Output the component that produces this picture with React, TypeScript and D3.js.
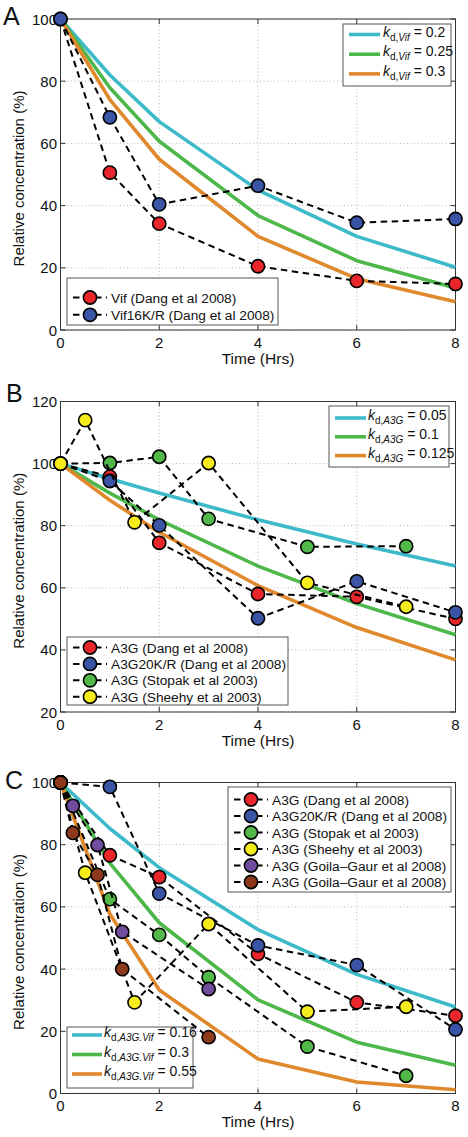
import React from "react";
import * as d3 from "d3";

// ---------- shared ----------
const xTicks = [0, 2, 4, 6, 8];
const modelTimes = [0, 1, 2, 4, 6, 8];
const timesDang = [0, 1, 2, 4, 6, 8];
const timesStopak = [0, 1, 2, 3, 5, 7];
const timesSheehy = [0, 0.5, 1.5, 3, 5, 7];
const timesGoila = [0, 0.25, 0.75, 1.25, 3];

// ---------- panel A ----------
const yTicksA = [0, 20, 40, 60, 80, 100];
const vifDangA = [100, 50.6, 34.2, 20.5, 15.8, 14.8];
const vif16KRA = [100, 68.4, 40.4, 46.4, 34.5, 35.7];
const modelA1 = [100, 82.0, 67.0, 45.0, 30.1, 20.2];
const modelA2 = [100, 77.9, 60.7, 36.8, 22.3, 13.5];
const modelA3 = [100, 74.1, 54.9, 30.1, 16.5, 9.1];
const kValuesA = ["0.2", "0.25", "0.3"];
const dataLabelsA = ["Vif (Dang et al 2008)", "Vif16K/R (Dang et al 2008)"];

// ---------- panel B ----------
const yTicksB = [20, 40, 60, 80, 100, 120];
const a3gDangB = [100, 95.8, 74.5, 58.0, 57.1, 50.0];
const a3g20KRB = [100, 94.4, 80.1, 50.2, 62.1, 52.1];
const a3gStopakB = [100, 100.2, 102.2, 82.2, 73.2, 73.4];
const a3gSheehyB = [100, 114.0, 81.1, 100.2, 61.6, 53.9];
const modelB1 = [100, 95.1, 90.5, 81.9, 74.1, 67.0];
const modelB2 = [100, 90.5, 81.9, 67.0, 54.9, 44.9];
const modelB3 = [100, 88.2, 77.9, 60.7, 47.2, 36.8];
const kValuesB = ["0.05", "0.1", "0.125"];
const dataLabelsB = [
  "A3G (Dang et al 2008)",
  "A3G20K/R (Dang et al 2008)",
  "A3G (Stopak et al 2003)",
  "A3G (Sheehy et al 2003)",
];

// ---------- panel C ----------
const yTicksC = [0, 20, 40, 60, 80, 100];
const a3gDangC = [100, 76.6, 69.6, 44.9, 29.3, 25.0];
const a3g20KRC = [100, 98.6, 64.3, 47.6, 41.3, 20.6];
const a3gStopakC = [100, 62.5, 51.0, 37.4, 15.1, 5.7];
const a3gSheehyC = [100, 71.0, 29.3, 54.5, 26.3, 27.9];
const a3gGoila1C = [100, 92.5, 79.9, 52.0, 33.6];
const a3gGoila2C = [100, 83.8, 70.3, 40.0, 18.1];
const modelC1 = [100, 85.2, 72.6, 52.7, 38.3, 27.8];
const modelC2 = [100, 74.1, 54.9, 30.1, 16.5, 9.1];
const modelC3 = [100, 57.7, 33.3, 11.1, 3.7, 1.2];
const kValuesC = ["0.16", "0.3", "0.55"];
const dataLabelsC = [
  "A3G (Dang et al 2008)",
  "A3G20K/R (Dang et al 2008)",
  "A3G (Stopak et al 2003)",
  "A3G (Sheehy et al 2003)",
  "A3G (Goila\u2013Gaur et al 2008)",
  "A3G (Goila\u2013Gaur et al 2008)",
];

// ---------- styles ----------
const CYAN = "#3dbac9";
const GREEN = "#4eb74a";
const ORANGE = "#e0882c";
const M_RED = "#e8262b";
const M_BLUE = "#3a55a6";
const M_GREEN = "#52b848";
const M_YELLOW = "#f7ec1b";
const M_PURPLE = "#704c9c";
const M_BROWN = "#8c391c";
const modelColors = [CYAN, GREEN, ORANGE];
const FONT = "'Liberation Sans', Arial, Helvetica, sans-serif";

const X0 = 60.5;
const X1 = 455.5;

type Series = { t: number[]; v: number[]; color: string };

type PanelProps = {
  letter: string;
  letterPos: [number, number];
  yTop: number;
  yBottom: number;
  yDomain: [number, number];
  yTicks: number[];
  series: Series[];
  models: number[][];
  dataLabels: string[];
  dataLegend: { x: number; y: number; w: number; h: number; row0: number; dy: number; mx: number; lx0: number; lx1: number; tx: number };
  kSub: string;
  kValues: string[];
  modelLegend: { x: number; y: number; w: number; h: number; row0: number; dy: number; lx0: number; lx1: number; tx: number };
  yLabelCenterShift: number;
  xLabelOffset: number;
};

function Panel(p: PanelProps) {
  const x = d3.scaleLinear().domain([0, 8]).range([X0, X1]);
  const y = d3.scaleLinear().domain(p.yDomain).range([p.yBottom, p.yTop]);
  const line = d3
    .line<[number, number]>()
    .x((d) => x(d[0]))
    .y((d) => y(d[1]));
  const r = 6.6;
  const dl = p.dataLegend;
  const ml = p.modelLegend;
  const yMid = (p.yTop + p.yBottom) / 2 + p.yLabelCenterShift;
  return (
    <g>
      {/* grid */}
      {xTicks.map((t) => (
        <line key={"gx" + t} x1={x(t)} x2={x(t)} y1={p.yTop} y2={p.yBottom} stroke="#b8b8b8" strokeWidth={1} strokeDasharray="1,2.5" />
      ))}
      {p.yTicks.map((t) => (
        <line key={"gy" + t} x1={X0} x2={X1} y1={y(t)} y2={y(t)} stroke="#b8b8b8" strokeWidth={1} strokeDasharray="1,2.5" />
      ))}
      {/* ticks */}
      {xTicks.map((t) => (
        <g key={"tx" + t}>
          <line x1={x(t)} x2={x(t)} y1={p.yBottom} y2={p.yBottom - 5} stroke="#333" />
          <line x1={x(t)} x2={x(t)} y1={p.yTop} y2={p.yTop + 5} stroke="#333" />
          <text x={x(t)} y={p.yBottom + 17.5} textAnchor="middle" fontSize={15} fontFamily={FONT} fill="#111">
            {t}
          </text>
        </g>
      ))}
      {p.yTicks.map((t) => (
        <g key={"ty" + t}>
          <line x1={X0} x2={X0 + 5} y1={y(t)} y2={y(t)} stroke="#333" />
          <line x1={X1} x2={X1 - 5} y1={y(t)} y2={y(t)} stroke="#333" />
          <text x={57} y={y(t) + 5.5} textAnchor="end" fontSize={15} fontFamily={FONT} fill="#111">
            {t}
          </text>
        </g>
      ))}
      <rect x={X0} y={p.yTop} width={X1 - X0} height={p.yBottom - p.yTop} fill="none" stroke="#333" strokeWidth={1} />
      {/* axis labels */}
      <text x={(X0 + X1) / 2} y={p.yBottom + p.xLabelOffset} textAnchor="middle" fontSize={15.5} fontFamily={FONT} fill="#111">
        Time (Hrs)
      </text>
      <text
        x={24}
        y={yMid}
        transform={`rotate(-90, 24, ${yMid})`}
        textAnchor="middle"
        fontSize={15}
        fontFamily={FONT}
        fill="#111"
      >
        Relative concentration (%)
      </text>
      <text x={p.letterPos[0]} y={p.letterPos[1]} fontSize={25} fontFamily={FONT} fill="#111">
        {p.letter}
      </text>
      {/* model curves */}
      {p.models.map((m, i) => (
        <path
          key={"m" + i}
          d={line(modelTimes.map((t, j) => [t, m[j]] as [number, number])) || ""}
          fill="none"
          stroke={modelColors[i]}
          strokeWidth={3.6}
          strokeLinejoin="round"
        />
      ))}
      {/* data */}
      {p.series.map((s, i) => (
        <g key={"s" + i}>
          <path
            d={line(s.t.map((t, j) => [t, s.v[j]] as [number, number])) || ""}
            fill="none"
            stroke="#000"
            strokeWidth={2}
            strokeDasharray="6.5,4.5"
          />
          {s.t.map((t, j) => (
            <circle key={j} cx={x(t)} cy={y(s.v[j])} r={r} fill={s.color} stroke="#000" strokeWidth={1.6} />
          ))}
        </g>
      ))}
      {/* data legend */}
      <rect x={dl.x} y={dl.y} width={dl.w} height={dl.h} fill="#fff" stroke="#555" strokeWidth={1} />
      {p.dataLabels.map((lab, i) => {
        const yy = dl.row0 + i * dl.dy;
        return (
          <g key={"dl" + i}>
            <line x1={dl.lx0} x2={dl.lx1} y1={yy} y2={yy} stroke="#000" strokeWidth={2} strokeDasharray="6.5,4.5" />
            <circle cx={dl.mx} cy={yy} r={r} fill={p.series[i].color} stroke="#000" strokeWidth={1.6} />
            <text x={dl.tx} y={yy + 5} fontSize={13.7} fontFamily={FONT} fill="#111">
              {lab}
            </text>
          </g>
        );
      })}
      {/* model legend */}
      <rect x={ml.x} y={ml.y} width={ml.w} height={ml.h} fill="#fff" stroke="#555" strokeWidth={1} />
      {p.kValues.map((val, i) => {
        const yy = ml.row0 + i * ml.dy;
        return (
          <g key={"ml" + i}>
            <line x1={ml.lx0} x2={ml.lx1} y1={yy} y2={yy} stroke={modelColors[i]} strokeWidth={3.6} />
            <text x={ml.tx} y={yy + 2} fontSize={14} fontFamily={FONT} fill="#111">
              <tspan fontStyle="italic">k</tspan>
              <tspan fontSize={10} dy={4}>d,</tspan>
              <tspan fontSize={10} fontStyle="italic">{p.kSub}</tspan>
              <tspan dy={-4}>{" = " + val}</tspan>
            </text>
          </g>
        );
      })}
    </g>
  );
}

export default function App() {
  return (
    <svg
      width={468}
      height={1137}
      style={{ position: "absolute", left: 0, top: 0, background: "#fff" }}
      xmlns="http://www.w3.org/2000/svg"
    >
      <rect x={0} y={0} width={468} height={1137} fill="#fff" />
      <Panel
        letter="A"
        letterPos={[3, 25]}
        yTop={19}
        yBottom={330}
        yDomain={[0, 100]}
        yTicks={yTicksA}
        series={[
          { t: timesDang, v: vifDangA, color: M_RED },
          { t: timesDang, v: vif16KRA, color: M_BLUE },
        ]}
        models={[modelA1, modelA2, modelA3]}
        dataLabels={dataLabelsA}
        dataLegend={{ x: 67, y: 278, w: 211, h: 47, row0: 297.5, dy: 17.3, mx: 90, lx0: 73, lx1: 107, tx: 111 }}
        kSub="Vif"
        kValues={kValuesA}
        modelLegend={{ x: 343, y: 24, w: 108, h: 62, row0: 34.5, dy: 19.7, lx0: 349, lx1: 380, tx: 383 }}
        yLabelCenterShift={4}
        xLabelOffset={33.5}
      />
      <Panel
        letter="B"
        letterPos={[6, 402]}
        yTop={401.5}
        yBottom={712}
        yDomain={[20, 120]}
        yTicks={yTicksB}
        series={[
          { t: timesDang, v: a3gDangB, color: M_RED },
          { t: timesDang, v: a3g20KRB, color: M_BLUE },
          { t: timesStopak, v: a3gStopakB, color: M_GREEN },
          { t: timesSheehy, v: a3gSheehyB, color: M_YELLOW },
        ]}
        models={[modelB1, modelB2, modelB3]}
        dataLabels={dataLabelsB}
        dataLegend={{ x: 67, y: 637, w: 221, h: 68, row0: 647.5, dy: 16.4, mx: 90, lx0: 73, lx1: 107, tx: 111 }}
        kSub="A3G"
        kValues={kValuesB}
        modelLegend={{ x: 329, y: 406, w: 120, h: 61, row0: 418, dy: 18.8, lx0: 335, lx1: 366, tx: 368 }}
        yLabelCenterShift={4}
        xLabelOffset={33.5}
      />
      <Panel
        letter="C"
        letterPos={[5, 789]}
        yTop={782.5}
        yBottom={1093.5}
        yDomain={[0, 100]}
        yTicks={yTicksC}
        series={[
          { t: timesDang, v: a3gDangC, color: M_RED },
          { t: timesDang, v: a3g20KRC, color: M_BLUE },
          { t: timesStopak, v: a3gStopakC, color: M_GREEN },
          { t: timesSheehy, v: a3gSheehyC, color: M_YELLOW },
          { t: timesGoila, v: a3gGoila1C, color: M_PURPLE },
          { t: timesGoila, v: a3gGoila2C, color: M_BROWN },
        ]}
        models={[modelC1, modelC2, modelC3]}
        dataLabels={dataLabelsC}
        dataLegend={{ x: 228, y: 787, w: 223, h: 105, row0: 799.5, dy: 16.5, mx: 251, lx0: 234, lx1: 268, tx: 272 }}
        kSub="A3G.Vif"
        kValues={kValuesC}
        modelLegend={{ x: 67, y: 1027, w: 126, h: 61, row0: 1035, dy: 19.5, lx0: 72, lx1: 102, tx: 104 }}
        yLabelCenterShift={4}
        xLabelOffset={33.5}
      />
    </svg>
  );
}
